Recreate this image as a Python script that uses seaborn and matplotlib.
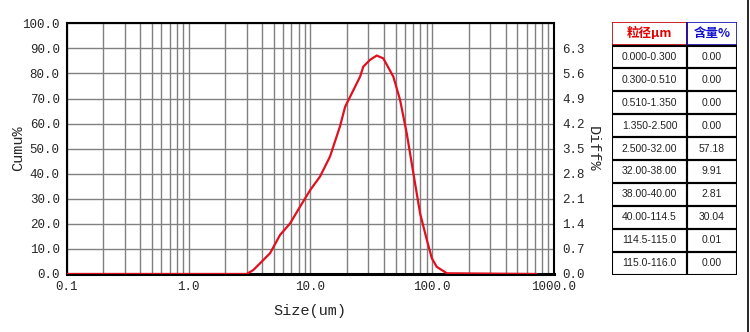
import numpy as np
import pandas as pd
import matplotlib
matplotlib.use("Agg")
import matplotlib.pyplot as plt
import seaborn as sns
from matplotlib.patches import Rectangle
from matplotlib.lines import Line2D

# curve (diff %)
size_um = [0.1, 3.0, 3.4, 3.87, 4.67, 5.64, 6.81, 8.23, 10.0, 12.0, 14.5, 17.5, 19.3,
           22.6, 25.6, 27.2, 30.9, 35.1, 39.7, 48.0, 54.5, 61.8, 70.1, 79.6, 90.4,
           99.3, 109.0, 132.0, 720.0]
diff_pct = [0, 0, 0.11, 0.30, 0.58, 1.09, 1.41, 1.88, 2.35, 2.72, 3.28, 4.12, 4.67,
            5.14, 5.51, 5.79, 5.98, 6.10, 6.02, 5.51, 4.86, 3.93, 2.81, 1.69, 0.95,
            0.44, 0.20, 0.02, 0]

# table
ranges = ["0.000-0.300", "0.300-0.510", "0.510-1.350", "1.350-2.500", "2.500-32.00",
          "32.00-38.00", "38.00-40.00", "40.00-114.5", "114.5-115.0", "115.0-116.0"]
amounts = ["0.00", "0.00", "0.00", "0.00", "57.18", "9.91", "2.81", "30.04", "0.01", "0.00"]

cumu_ticks = np.arange(0, 101, 10)
diff_ticks = np.arange(0, 10) * 0.7
x_ticks = [0.1, 1, 10, 100, 1000]
x_labels = ["0.1", "1.0", "10.0", "100.0", "1000.0"]

sns.set_style("white")
plt.rcParams['font.family'] = ['Liberation Mono', 'DejaVu Sans']

df = pd.DataFrame({"size": size_um, "diff": diff_pct})

fig = plt.figure(figsize=(7.5, 3.32), dpi=100)
ax = fig.add_axes([0.0889, 0.1747, 0.6498, 0.7551])
ax.set_xscale("log")
ax.set_xlim(0.1, 1000)
ax.set_ylim(0, 100)
ax.set_yticks(cumu_ticks)
ax.set_yticklabels([f"{v:.1f}" for v in cumu_ticks], fontsize=9)
ax.set_xticks(x_ticks)
ax.set_xticklabels(x_labels, fontsize=9)
ax.grid(True, which="both", axis="x", color="#808080", lw=1)
ax.grid(True, which="major", axis="y", color="#808080", lw=1)
ax.tick_params(which="both", length=0, pad=5)
ax.set_ylabel("Cumu%", fontsize=11, va="center")
ax.yaxis.set_label_coords(-0.100, 0.5)
for s in ax.spines.values():
    s.set_color("black")
    s.set_linewidth(1.5)
ax.spines["bottom"].set_linewidth(2.2)

ax2 = ax.twinx()
ax2.set_ylim(0, 7)
sns.lineplot(data=df, x="size", y="diff", ax=ax2, color="#e01020", lw=1.6)
ax2.set_yticks(diff_ticks)
ax2.set_yticklabels([f"{v:.1f}" for v in diff_ticks], fontsize=9)
ax2.tick_params(length=0, pad=6)
ax2.set_ylabel("Diff%", fontsize=11, rotation=270, va="center")
ax2.yaxis.set_label_coords(1.08, 0.5)
ax2.set_xlabel("")
ax.set_xlabel("Size(um)", fontsize=11, labelpad=8)
for s in ax2.spines.values():
    s.set_visible(False)

# table drawn in pixel coords
tax = fig.add_axes([612 / 750, 1 - 274.5 / 332, 125 / 750, (274.5 - 22) / 332])
tax.set_xlim(612, 737)
tax.set_ylim(274.5, 22)
tax.axis("off")
x0, xm, x1 = 612, 687, 737
tax.add_patch(Rectangle((x0, 22), xm - x0, 23, fill=False, ec="#c00000", lw=1.2))
tax.add_patch(Rectangle((xm, 22), x1 - xm, 23, fill=False, ec="#1010b0", lw=1.2))
cjk = ['Noto Sans CJK SC', 'DejaVu Sans']
tax.text((x0 + xm) / 2, 33.5, "粒径μm", color="#e00000", fontsize=9, fontweight="bold",
         ha="center", va="center", family=cjk)
tax.text((xm + x1) / 2, 33.5, "含量%", color="#1010d0", fontsize=9, fontweight="bold",
         ha="center", va="center", family=cjk)
rh = (274.5 - 45.5) / len(ranges)
for i, (r, a) in enumerate(zip(ranges, amounts)):
    y = 45.5 + i * rh
    tax.add_patch(Rectangle((x0, y), xm - x0, rh, fill=False, ec="black", lw=1.5))
    tax.add_patch(Rectangle((xm, y), x1 - xm, rh, fill=False, ec="black", lw=1.5))
    tax.text((x0 + xm) / 2, y + rh / 2, r, fontsize=7.5, ha="center", va="center",
             family="Liberation Sans", color="#222222")
    tax.text((xm + x1) / 2, y + rh / 2, a, fontsize=7.5, ha="center", va="center",
             family="Liberation Sans", color="#222222")

fig.add_artist(Line2D([747.5 / 750, 747.5 / 750], [0, 1], color="black", lw=1.2))

fig.savefig("out.png", dpi=100)
